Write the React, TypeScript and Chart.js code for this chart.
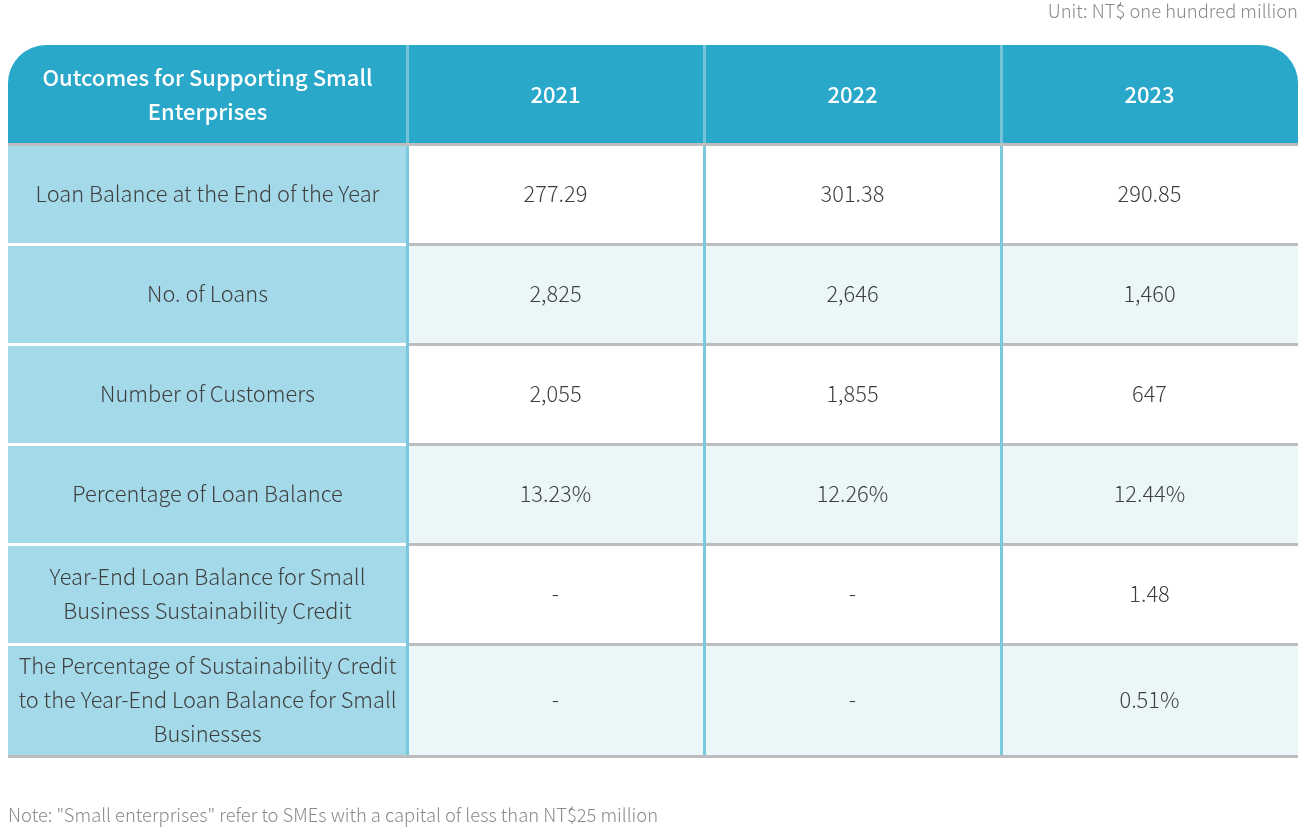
import React, { useEffect, useRef } from "react";
import { Chart, registerables } from "chart.js";

Chart.register(...registerables);

// ---- data ----
const headerLabels = ["Outcomes for Supporting Small\nEnterprises", "2021", "2022", "2023"];
const rowLabels = [
  "Loan Balance at the End of the Year",
  "No. of Loans",
  "Number of Customers",
  "Percentage of Loan Balance",
  "Year-End Loan Balance for Small\nBusiness Sustainability Credit",
  "The Percentage of Sustainability Credit\nto the Year-End Loan Balance for Small\nBusinesses",
];
const values2021 = ["277.29", "2,825", "2,055", "13.23%", "-", "-"];
const values2022 = ["301.38", "2,646", "1,855", "12.26%", "-", "-"];
const values2023 = ["290.85", "1,460", "647", "12.44%", "1.48", "0.51%"];
const unitText = "Unit: NT$ one hundred million";
const noteText = 'Note: "Small enterprises" refer to SMEs with a capital of less than NT$25 million';

// ---- layout (scale units) ----
const colWidths = [1.342, 1, 1, 1];
const rowHeights = [0.98, 1, 1, 1, 1, 1, 1.15];

const FONT = '"Noto Sans CJK TC", "Noto Sans", sans-serif';
const HEADER_BG = "#2AA8CA";
const FIRST_COL_BG = "#A3D9E8";
const ALT_BG = "#EAF6F8";
const GRAY = "#BDBDBF";
const VSEP = "#79C8DD";
const TEXT = "#3f3f3f";

function edges(arr: number[]) {
  const out = [0];
  arr.forEach((w) => out.push(out[out.length - 1] + w));
  return out;
}

const tablePlugin = {
  id: "tablePlugin",
  beforeDatasetsDraw(chart: any) {
    const { ctx, scales } = chart;
    const xs = scales.x;
    const ys = scales.y;
    const xe = edges(colWidths).map((v) => Math.round(xs.getPixelForValue(v)));
    const ye = edges(rowHeights).map((v) => Math.round(ys.getPixelForValue(v)));
    const left = xe[0];
    const right = xe[xe.length - 1];
    const top = ye[0];
    const bottom = ye[ye.length - 1];
    const lw = 3;
    const columnsData = [values2021, values2022, values2023];

    ctx.save();
    // header background with rounded top corners
    const r = 38;
    ctx.fillStyle = HEADER_BG;
    ctx.beginPath();
    ctx.moveTo(left, ye[1]);
    ctx.lineTo(left, top + r);
    ctx.arcTo(left, top, left + r, top, r);
    ctx.lineTo(right - r, top);
    ctx.arcTo(right, top, right, top + r, r);
    ctx.lineTo(right, ye[1]);
    ctx.closePath();
    ctx.fill();

    // body rows
    for (let i = 0; i < rowLabels.length; i++) {
      const y0 = ye[i + 1];
      const y1 = ye[i + 2];
      ctx.fillStyle = FIRST_COL_BG;
      ctx.fillRect(left, y0, xe[1] - left, y1 - y0);
      ctx.fillStyle = i % 2 === 0 ? "#FFFFFF" : ALT_BG;
      ctx.fillRect(xe[1], y0, right - xe[1], y1 - y0);
      if (i === 0) {
        ctx.fillStyle = GRAY;
        ctx.fillRect(left, y0, right - left, lw);
      } else {
        ctx.fillStyle = "#FFFFFF";
        ctx.fillRect(left, y0, xe[1] - left, lw);
        ctx.fillStyle = GRAY;
        ctx.fillRect(xe[1], y0, right - xe[1], lw);
      }
    }
    ctx.fillStyle = GRAY;
    ctx.fillRect(left, bottom - lw, right - left, lw);

    // vertical separators
    for (let c = 1; c < xe.length - 1; c++) {
      ctx.fillStyle = "#74C3D9";
      ctx.fillRect(xe[c] - 1, top, lw, ye[1] - top);
      ctx.fillStyle = VSEP;
      ctx.fillRect(xe[c] - 1, ye[1] + lw, lw, bottom - lw - ye[1] - lw);
    }

    const drawLines = (text: string, cx: number, cy: number) => {
      const lines = text.split("\n");
      const lh = 34;
      const startY = cy - ((lines.length - 1) * lh) / 2;
      lines.forEach((ln, k) => ctx.fillText(ln, cx, startY + k * lh));
    };

    ctx.textAlign = "center";
    ctx.textBaseline = "middle";
    ctx.fillStyle = "#FFFFFF";
    ctx.font = `500 22px ${FONT}`;
    headerLabels.forEach((h, c) => {
      drawLines(h, (xe[c] + xe[c + 1]) / 2, (ye[0] + ye[1]) / 2 + 1);
    });

    ctx.fillStyle = TEXT;
    ctx.font = `300 21.8px ${FONT}`;
    for (let i = 0; i < rowLabels.length; i++) {
      const cy = (ye[i + 1] + lw + ye[i + 2] - (i === rowLabels.length - 1 ? lw : 0)) / 2 - 1;
      drawLines(rowLabels[i], (xe[0] + xe[1]) / 2, cy);
      columnsData.forEach((col, c) => {
        drawLines(col[i], (xe[c + 1] + xe[c + 2]) / 2, cy);
      });
    }

    ctx.fillStyle = "#8a8a8a";
    ctx.font = `300 18.4px ${FONT}`;
    ctx.textAlign = "right";
    ctx.fillText(unitText, right, top - 34);
    ctx.textAlign = "left";
    ctx.fillText(noteText, left, bottom + 57);
    ctx.restore();
  },
};

export default function App() {
  const ref = useRef<HTMLCanvasElement | null>(null);
  useEffect(() => {
    if (!ref.current) return;
    const points: { x: number; y: number }[] = [];
    const xe = edges(colWidths);
    const ye = edges(rowHeights);
    for (let i = 0; i < rowLabels.length; i++) {
      for (let c = 0; c < 4; c++) {
        points.push({ x: (xe[c] + xe[c + 1]) / 2, y: (ye[i + 1] + ye[i + 2]) / 2 });
      }
    }
    const chart = new Chart(ref.current, {
      type: "scatter",
      data: {
        datasets: [{ data: points, pointRadius: 0, pointHoverRadius: 0 }],
      },
      options: {
        responsive: false,
        animation: false,
        events: [],
        layout: { padding: { left: 8, right: 8, top: 45, bottom: 72 } },
        plugins: { legend: { display: false }, tooltip: { enabled: false }, title: { display: false } },
        scales: {
          x: { type: "linear", display: false, min: 0, max: edges(colWidths)[4] },
          y: { type: "linear", display: false, reverse: true, min: 0, max: edges(rowHeights)[7] },
        },
      },
      plugins: [tablePlugin],
    });
    return () => chart.destroy();
  }, []);
  return (
    <div style={{ position: "absolute", left: 0, top: 0, width: 1306, height: 830, background: "#fff" }}>
      <canvas ref={ref} width={1306} height={830} style={{ display: "block" }} />
    </div>
  );
}
